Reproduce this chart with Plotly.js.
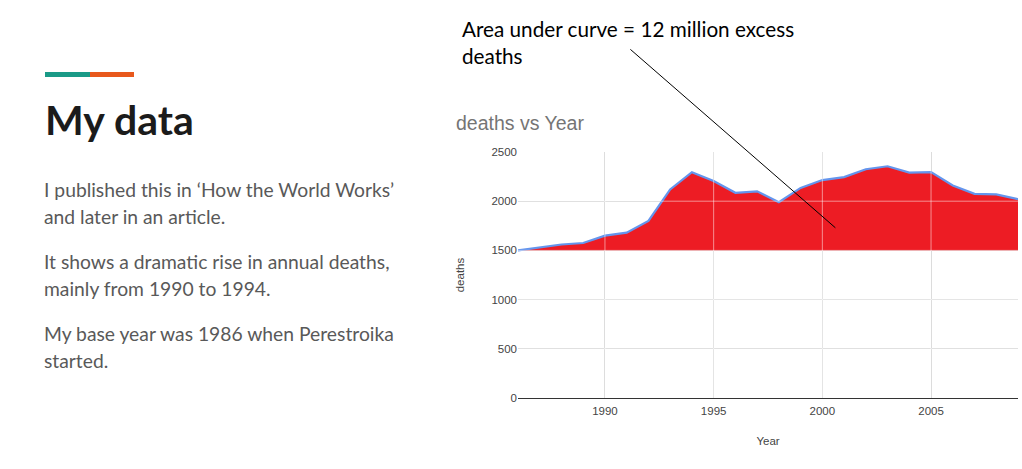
<!DOCTYPE html>
<html>
<head>
<meta charset="utf-8">
<script src="https://cdn.plot.ly/plotly-3.0.1.min.js"></script>
<style>
  html, body { margin: 0; padding: 0; background: #fff; }
  body { width: 1022px; height: 469px; position: relative; overflow: hidden; }
  .accent { position: absolute; top: 72px; height: 5px; }
  .accent.teal { left: 45px; width: 45px; background: #1a9a87; }
  .accent.orange { left: 90px; width: 44px; background: #e8581c; }
  h1 {
    position: absolute; left: 45px; top: 96px; margin: 0;
    font: 700 41px/48px Lato, sans-serif; color: #1b1b1b;
  }
  .copy {
    position: absolute; left: 44px; top: 176px; width: 390px;
    font: 400 19.3px/27px Lato, sans-serif; color: #595959;
  }
  .copy p { margin: 0 0 18px 0; }
  #chart { position: absolute; left: 440px; top: 0; width: 582px; height: 469px; }
</style>
</head>
<body>
<div class="accent teal"></div><div class="accent orange"></div>
<h1>My data</h1>
<div class="copy">
  <p>I published this in ‘How the World Works’<br>and later in an article.</p>
  <p>It shows a dramatic rise in annual deaths,<br>mainly from 1990 to 1994.</p>
  <p>My base year was 1986 when Perestroika<br>started.</p>
</div>
<div id="chart"></div>
<script>
// deaths vs Year (thousands)
const years = [1986, 1987, 1988, 1989, 1990, 1991, 1992, 1993, 1994, 1995, 1996, 1997,
  1998, 1999, 2000, 2001, 2002, 2003, 2004, 2005, 2006, 2007, 2008, 2009];
const deaths = [1500, 1530, 1560, 1575, 1650, 1680, 1800, 2120, 2295, 2205, 2085, 2100,
  1990, 2135, 2215, 2245, 2325, 2355, 2290, 2295, 2160, 2075, 2070, 2020];
// base year level the excess is measured against
const BASE_DEATHS = 1500;
const baseline = years.map(() => BASE_DEATHS);

const xTicks = [1990, 1995, 2000, 2005];
const yTicks = [0, 500, 1000, 1500, 2000, 2500];

const NOTE_TEXT = 'Area under curve = 12 million excess<br>deaths';
const NOTE_POINT = { year: 2000.6, deaths: 1730 };

const RED = '#ed1c24';
const BLUE = '#6495ed';
const GRID = '#d0d0d0';
const GRID_ON_FILL = 'rgba(255,255,255,0.5)';
const FONT_CHART = 'Arial, "Liberation Sans", sans-serif';

// Gridlines show through the area in the original; redraw them faintly on top.
function gridOverlay() {
  const v = xTicks.map(t => ({
    type: 'line', layer: 'above', xref: 'x', yref: 'paper', x0: t, x1: t, y0: 0, y1: 1,
    line: { color: GRID_ON_FILL, width: 1 }
  }));
  const h = yTicks.slice(1, -1).map(t => ({
    type: 'line', layer: 'above', xref: 'paper', yref: 'y', x0: 0, x1: 1, y0: t, y1: t,
    line: { color: GRID_ON_FILL, width: 1 }
  }));
  return v.concat(h);
}

function render() {
  const traces = [
    {
      type: 'scatter', mode: 'lines', x: years, y: baseline,
      line: { width: 0, color: RED }, hoverinfo: 'skip', showlegend: false
    },
    {
      type: 'scatter', mode: 'lines', x: years, y: deaths,
      fill: 'tonexty', fillcolor: RED,
      line: { color: BLUE, width: 2.2 }, showlegend: false
    }
  ];

  const axisBase = {
    showline: false, ticks: '', showgrid: true, gridcolor: GRID, zeroline: false, fixedrange: true,
    tickfont: { family: FONT_CHART, size: 11.5, color: '#444' }
  };

  const layout = {
    width: 582, height: 469,
    paper_bgcolor: '#fff', plot_bgcolor: '#fff',
    margin: { l: 78, r: 4, t: 152, b: 71 },
    font: { family: FONT_CHART, color: '#444' },
    showlegend: false,
    title: {
      text: 'deaths vs Year', xref: 'container', yref: 'container',
      x: 16 / 582, xanchor: 'left', y: 1 - 123 / 469, yanchor: 'middle',
      font: { family: FONT_CHART, size: 19.5, color: '#757575' }
    },
    xaxis: Object.assign({}, axisBase, {
      range: [1986, 2009], tickvals: xTicks, ticklabelstandoff: 4,
      title: { text: 'Year', standoff: 21, font: { family: FONT_CHART, size: 11.5, color: '#444' } }
    }),
    yaxis: Object.assign({}, axisBase, {
      range: [0, 2500], tickvals: yTicks, zeroline: true, zerolinecolor: '#333', zerolinewidth: 1,
      title: { text: 'deaths', standoff: 24, font: { family: FONT_CHART, size: 11.5, color: '#444' } }
    }),
    shapes: gridOverlay(),
    annotations: [
      {
        xref: 'paper', yref: 'paper', x: -0.116, y: 1.555,
        xanchor: 'left', yanchor: 'top', align: 'left', showarrow: false,
        text: NOTE_TEXT, font: { family: 'Lato, sans-serif', size: 20.7, color: '#000' }
      },
      {
        xref: 'x', yref: 'y', x: NOTE_POINT.year, y: NOTE_POINT.deaths,
        axref: 'pixel', ayref: 'pixel', ax: -208, ay: -181,
        text: ' ', showarrow: true, arrowhead: 0, arrowwidth: 1, arrowcolor: '#000'
      }
    ]
  };

  Plotly.newPlot('chart', traces, layout, { displayModeBar: false, staticPlot: true });
}

render();
</script>
</body>
</html>
